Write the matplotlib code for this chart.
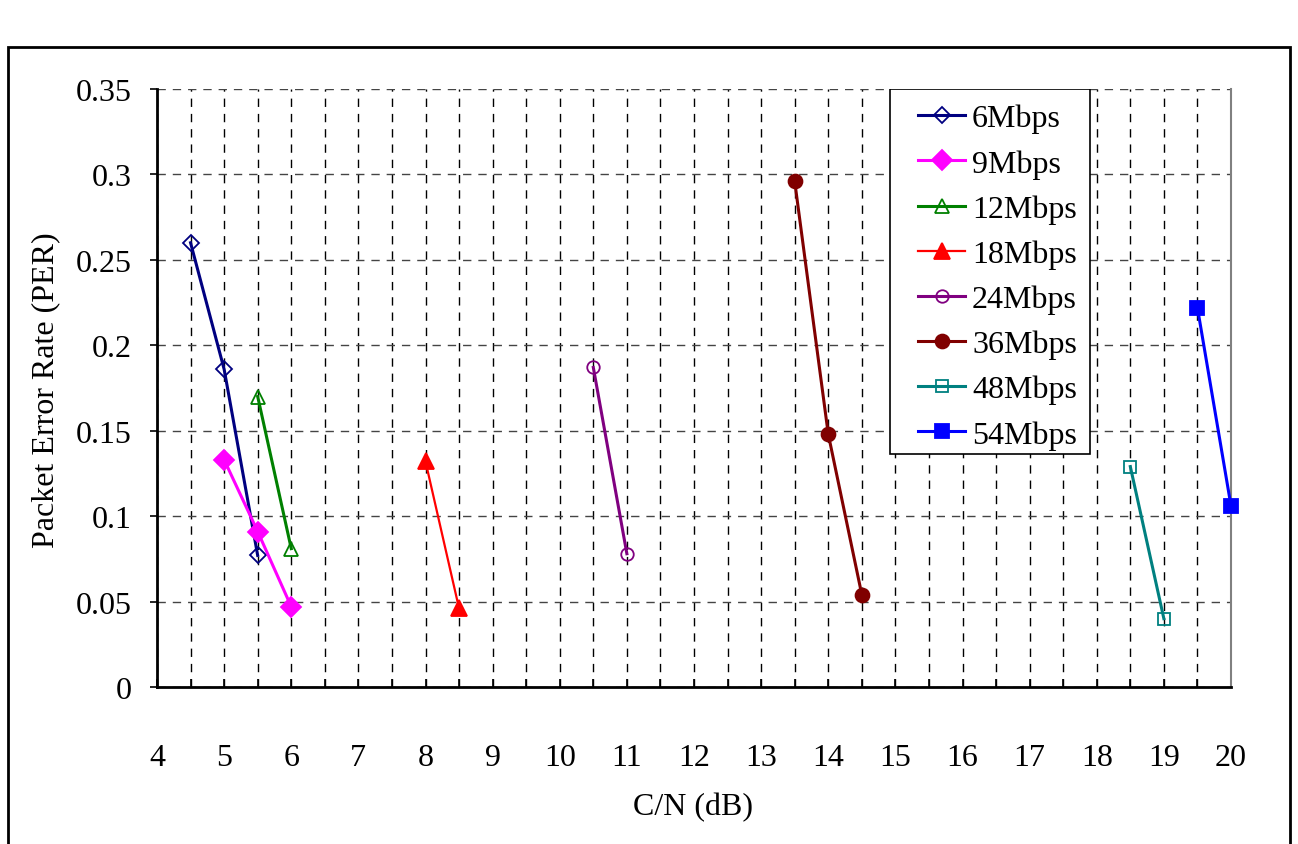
import matplotlib
matplotlib.use("Agg")
import matplotlib.pyplot as plt
from matplotlib.ticker import MultipleLocator
from matplotlib.patches import Rectangle

# data: C/N (dB) and packet error rate per data rate
cn_6 = [4.5, 5.0, 5.5]
per_6 = [0.260, 0.186, 0.077]
cn_9 = [5.0, 5.5, 6.0]
per_9 = [0.133, 0.091, 0.047]
cn_12 = [5.5, 6.0]
per_12 = [0.170, 0.081]
cn_18 = [8.0, 8.5]
per_18 = [0.132, 0.046]
cn_24 = [10.5, 11.0]
per_24 = [0.187, 0.078]
cn_36 = [13.5, 14.0, 14.5]
per_36 = [0.296, 0.148, 0.054]
cn_48 = [18.5, 19.0]
per_48 = [0.129, 0.040]
cn_54 = [19.5, 20.0]
per_54 = [0.222, 0.106]

series = [
    ("6Mbps", cn_6, per_6, "#000080", "D", "none", 8, 2.2),
    ("9Mbps", cn_9, per_9, "#FF00FF", "D", "#FF00FF", 10, 2.2),
    ("12Mbps", cn_12, per_12, "#008000", "^", "none", 10, 2.2),
    ("18Mbps", cn_18, per_18, "#FF0000", "^", "#FF0000", 11, 1.6),
    ("24Mbps", cn_24, per_24, "#800080", "o", "none", 9, 2.2),
    ("36Mbps", cn_36, per_36, "#800000", "o", "#800000", 10, 2.2),
    ("48Mbps", cn_48, per_48, "#008080", "s", "none", 9, 2.2),
    ("54Mbps", cn_54, per_54, "#0000FF", "s", "#0000FF", 10, 2.2),
]

plt.rcParams["font.family"] = ["Liberation Serif", "DejaVu Serif"]

fig = plt.figure(figsize=(12.98, 8.45), dpi=100)
ax = fig.add_axes([157 / 1298, 1 - 688 / 845, 1074 / 1298, 598 / 845])

for name, x, y, col, mk, face, ms, lw in series:
    ax.plot(x, y, color=col, lw=lw, marker=mk, markersize=ms,
            markerfacecolor=face, markeredgecolor=col, markeredgewidth=1.3,
            label=name, clip_on=False, zorder=3)

ax.set_xlim(4, 20)
ax.set_ylim(0, 0.35)
ax.xaxis.set_major_locator(MultipleLocator(1))
ax.xaxis.set_minor_locator(MultipleLocator(0.5))
ax.set_yticks([0, 0.05, 0.1, 0.15, 0.2, 0.25, 0.3, 0.35])
ax.set_yticklabels(["0", "0.05", "0.1", "0.15", "0.2", "0.25", "0.3", "0.35"])

ax.grid(which="both", axis="x", color="black", ls=(0, (6, 5)), lw=1.0)
ax.grid(which="major", axis="y", color="#444444", ls=(0, (6, 5)), lw=1.0)
ax.set_axisbelow(True)

ax.tick_params(axis="x", which="both", direction="in", length=6, width=1.2,
               pad=40, labelsize=23)
ax.tick_params(axis="y", direction="out", length=5, width=1.2, pad=13,
               labelsize=23)

ax.spines["top"].set_visible(False)
ax.spines["right"].set_color("#808080")
ax.spines["right"].set_linewidth(1.5)
ax.spines["left"].set_linewidth(2)
ax.spines["bottom"].set_linewidth(2)

ax.set_xlabel("C/N (dB)", fontsize=23)
ax.xaxis.set_label_coords(0.499, -0.20)
ax.xaxis.label.set_va("center")
ax.set_ylabel("Packet Error Rate (PER)", fontsize=23)
ax.yaxis.set_label_coords(-0.104, 0.498)
ax.yaxis.label.set_va("center")

# legend content without frame, frame drawn separately to match the box
leg = ax.legend(loc="upper left", bbox_to_anchor=(0.7086, 0.975), fontsize=23,
                frameon=False, borderpad=0, labelspacing=0.49,
                handlelength=1.47, handletextpad=0.22, borderaxespad=0)
ax.add_patch(Rectangle((0.6825, 0.3896), 0.1862, 0.6104,
                       transform=ax.transAxes, fill=True, facecolor="white",
                       edgecolor="black", lw=1.2, zorder=4))
leg.set_zorder(5)

# outer chart-area border
fig.add_artist(Rectangle((8 / 1298, -0.02), 1282 / 1298, 1 - 48 / 845 + 0.02,
                         transform=fig.transFigure, fill=False,
                         edgecolor="black", lw=2))

fig.savefig("out.png", dpi=100)
